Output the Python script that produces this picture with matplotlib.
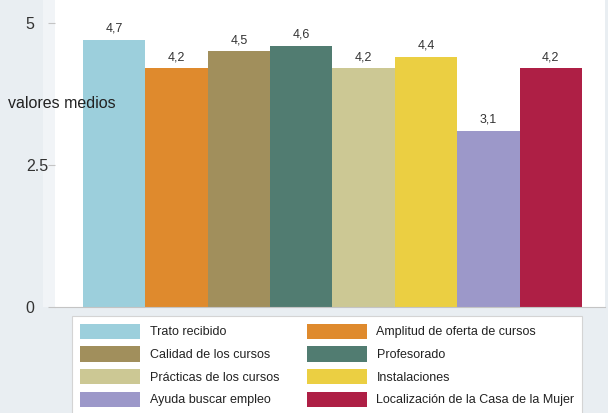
import matplotlib.pyplot as plt
from matplotlib.patches import Patch, Rectangle

plt.rcParams['font.family'] = ['Liberation Sans', 'DejaVu Sans']

# Data
categories = ['Trato recibido', 'Amplitud de oferta de cursos', 'Calidad de los cursos',
              'Profesorado', 'Prácticas de los cursos', 'Instalaciones',
              'Ayuda buscar empleo', 'Localización de la Casa de la Mujer']
values = [4.7, 4.2, 4.5, 4.6, 4.2, 4.4, 3.1, 4.2]
colors = ['#9ccfdc', '#df8a2d', '#a18f5c', '#517c71', '#ccc894', '#ebcf42', '#9c98c9', '#ae1f45']
yticks = [0, 2.5, 5]
yticklabels = ['0', '2.5', '5']

W, H = 608, 413
fig = plt.figure(figsize=(W / 100, H / 100), dpi=100, facecolor='#e9eef2')

# lighter strip between outer region and plot region
fig.patches.append(Rectangle((43 / W, 1 - 307 / H), 12 / W, 307 / H,
                             transform=fig.transFigure, facecolor='#f1f4f7',
                             edgecolor='none', zorder=-1))

ax = fig.add_axes([55 / W, 1 - 307 / H, 550 / W, 307 / H])
ax.set_facecolor('white')

x = list(range(len(values)))
ax.bar(x, values, width=1.0, color=colors, linewidth=0)
for xi, v in zip(x, values):
    ax.text(xi, v + 0.2, f'{v:.1f}'.replace('.', ','), ha='center', va='center',
            fontsize=9, color='#333333')

ax.set_xlim(-0.95, 7.87)
ax.set_ylim(0, 5.405)
ax.set_xticks([])
ax.set_yticks(yticks)
ax.set_yticklabels(yticklabels, fontsize=11.5, color='#333333', ha='left')
ax.tick_params(axis='y', length=5, color='#c4c4c4', width=0.8, pad=16)
for s in ax.spines.values():
    s.set_visible(False)
ax.spines['bottom'].set_visible(True)
ax.spines['bottom'].set_color('#c4c4c4')
ax.spines['bottom'].set_linewidth(0.8)

fig.text(8 / W, 1 - 103 / H, 'valores medios', fontsize=11.5, color='#222222',
         va='center', ha='left', zorder=5)

# legend: row-wise order in two columns
order = [0, 2, 4, 6, 1, 3, 5, 7]
handles = [Patch(facecolor=colors[i], edgecolor='none', label=categories[i]) for i in order]
leg = fig.legend(handles=handles, ncol=2, loc='upper left',
                 bbox_to_anchor=(72 / W, 1 - 316 / H), borderaxespad=0,
                 fontsize=9, handlelength=4.8, handleheight=1.5, handletextpad=0.8,
                 labelspacing=0.6, columnspacing=2.2, borderpad=0.6,
                 fancybox=False, framealpha=1, edgecolor='#d4d4d4',
                 labelcolor='#222222')
leg.get_frame().set_linewidth(0.8)

fig.savefig('out.png', dpi=100, facecolor=fig.get_facecolor())
